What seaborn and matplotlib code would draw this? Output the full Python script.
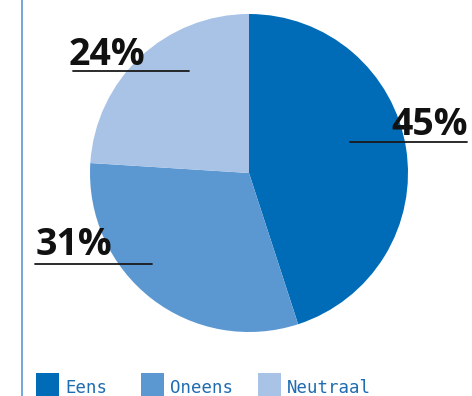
import matplotlib
matplotlib.use("Agg")
import matplotlib.pyplot as plt
from matplotlib.patches import Rectangle
from matplotlib.lines import Line2D
import seaborn as sns

sns.set_theme(style="white")

categories = ["Eens", "Oneens", "Neutraal"]
shares = [45, 31, 24]
colors = ["#006cb7", "#5b98d2", "#a8c3e6"]
label_texts = ["45%", "31%", "24%"]

W, H = 472, 396
fig = plt.figure(figsize=(W / 100, H / 100), dpi=100)
fig.patch.set_facecolor("white")

# pie area in pixel units (center 249,173 ; radius 159)
cx, cy, r = 249, 173, 159
ax = fig.add_axes([(cx - r) / W, (H - cy - r) / H, 2 * r / W, 2 * r / H])
ax.pie(shares, colors=colors, startangle=90, counterclock=False,
       radius=1, wedgeprops=dict(linewidth=0))
ax.set_xlim(-1, 1)
ax.set_ylim(-1, 1)
ax.set_aspect("equal")
ax.axis("off")

def fx(x):
    return x / W

def fy(y):
    return 1 - y / H

# left rule
fig.add_artist(Line2D([fx(22), fx(22)], [0, 1], color="#5b98d2", lw=1.2))

# percentage callouts: (text left, baseline, line x0, line x1, line y)
callouts = {
    "45%": (391, 135, 350, 467, 142),
    "31%": (36, 255, 35, 152, 264),
    "24%": (69, 65, 73, 189, 71),
}
for txt in label_texts:
    tx, ty, x0, x1, ly = callouts[txt]
    fig.text(fx(tx), fy(ty), txt, fontsize=27, fontweight="bold",
             family=["Open Sans", "DejaVu Sans"], color="#111111",
             ha="left", va="baseline")
    fig.add_artist(Line2D([fx(x0), fx(x1)], [fy(ly), fy(ly)],
                          color="#1a1a1a", lw=1.3))

# legend row
legend_x = [36, 141, 258]
for name, col, lx in zip(categories, colors, legend_x):
    fig.add_artist(Rectangle((fx(lx), fy(397)), 23 / W, 24 / H,
                             transform=fig.transFigure, color=col, lw=0))
    fig.text(fx(lx + 29), fy(393), name, fontsize=12.5,
             family=["DejaVu Sans Mono"], color="#1f6cb0",
             ha="left", va="baseline")

fig.savefig("out.png", dpi=100)
